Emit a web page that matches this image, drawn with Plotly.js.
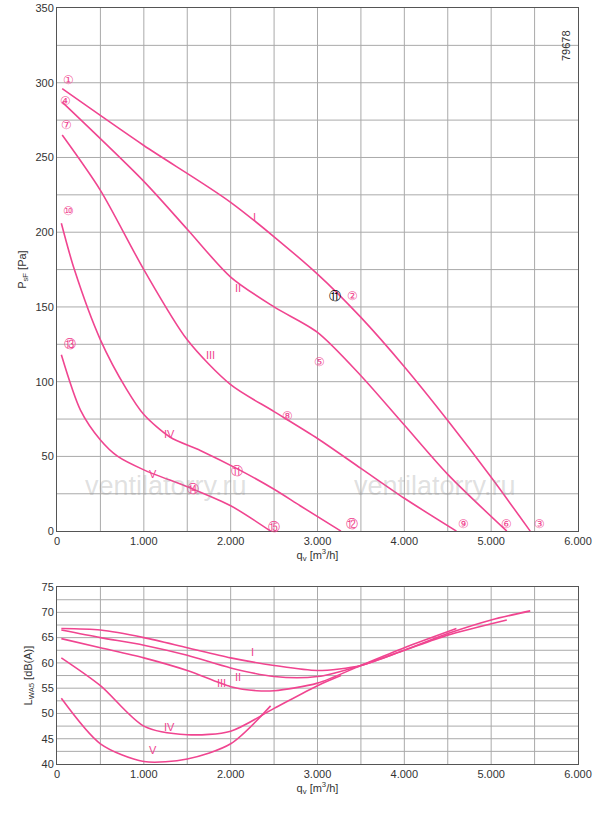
<!DOCTYPE html><html><head><script src="https://cdn.plot.ly/plotly-3.0.1.min.js"></script></head><body style="margin:0"><div id="c" style="width:600px;height:816px"></div><script>
const qI=[60,1000,2000,3000,3500,4000,4500,5000,5450], pI=[296,258,220,172,143,110,74,36,0];
const qII=[60,1000,1500,2000,2500,3000,3500,4000,4500,5180], pII=[287,234,202,170,150,133,104,71,38,0];
const qIII=[60,500,1000,1500,2000,2500,3000,3500,4000,4600], pIII=[265,228,175,128,98,80,62,42,22,0];
const qIV=[50,200,500,800,1000,1300,1650,2100,2500,2800,3270], pIV=[206,175,128,95,78,63,54,41,28,17,0];
const qV=[50,270,500,700,1000,1530,2000,2460], pV=[118,81,61,50,41,29,17,0];
const lqI=[50,500,1000,1500,2000,2500,3000,3500,4000,4500,5000,5450], lI=[66.8,66.5,65,63,61,59.5,58.5,59.5,62.5,65.8,68.5,70.3];
const lqII=[50,500,1000,1500,2000,2500,3000,3500,4000,4500,5180], lII=[66.5,65,63.5,61.5,59,57.3,57.3,59.5,62.5,65.5,68.5];
const lqIII=[50,500,1000,1500,2000,2300,2500,3000,3500,4000,4600], lIII=[64.8,63,61,58.5,55.3,54.5,54.5,56,59.5,63,66.8];
const lqIV=[50,500,1000,1500,2000,2500,3000,3270], lIV=[61,55.5,47.5,45.8,46.5,51,55.5,57.5];
const lqV=[50,500,1000,1500,2000,2460], lV=[53,44,40.5,41,44,51.5];
const xt=[0,1000,2000,3000,4000,5000,6000], xtl=['0','1.000','2.000','3.000','4.000','5.000','6.000'];
const pts=[['①',127,302],['④',100,288],['⑦',110,272],['⑩',127,214],['⑬',150,125],['②',3400,157],['⑤',3020,113],['⑧',2650,77],['⑪',2070,40],['⑭',1570,28],['⑮',2500,3],['⑫',3400,5],['⑨',4680,5],['⑥',5180,5],['③',5560,5]];
const rom=[['I',2270,210],['II',2080,163],['III',1770,118],['IV',1300,65],['V',1100,38]];
const rom2=[['I',2250,62.2],['II',2080,57.2],['III',1900,56],['IV',1300,47.3],['V',1100,42.8]];
const pink='#f04590';
function ln(x,y,xa,ya){return {x:x,y:y,xaxis:xa,yaxis:ya,mode:'lines',line:{color:pink,width:1.6,shape:'spline',smoothing:0.8},hoverinfo:'none'};}
const data=[ln(qI,pI,'x','y'),ln(qII,pII,'x','y'),ln(qIII,pIII,'x','y'),ln(qIV,pIV,'x','y'),ln(qV,pV,'x','y'),
ln(lqI,lI,'x2','y2'),ln(lqII,lII,'x2','y2'),ln(lqIII,lIII,'x2','y2'),ln(lqIV,lIV,'x2','y2'),ln(lqV,lV,'x2','y2')];
const ann=[];
pts.forEach(p=>ann.push({x:p[1],y:p[2],xref:'x',yref:'y',text:p[0],showarrow:false,font:{size:12,color:pink}}));
ann.push({x:3200,y:157,xref:'x',yref:'y',text:'⑪',showarrow:false,font:{size:12,color:'#000'}});
rom.forEach(p=>ann.push({x:p[1],y:p[2],xref:'x',yref:'y',text:p[0],showarrow:false,font:{size:11,color:pink}}));
rom2.forEach(p=>ann.push({x:p[1],y:p[2],xref:'x2',yref:'y2',text:p[0],showarrow:false,font:{size:11,color:pink}}));
ann.push({x:1250,y:30,xref:'x',yref:'y',text:'ventilatorry.ru',showarrow:false,font:{size:27,color:'rgba(150,150,150,0.3)'}});
ann.push({x:4350,y:30,xref:'x',yref:'y',text:'ventilatorry.ru',showarrow:false,font:{size:27,color:'rgba(150,150,150,0.3)'}});
ann.push({x:5870,y:325,xref:'x',yref:'y',text:'79678',textangle:-90,showarrow:false,font:{size:11,color:'#333'}});
const ax={range:[0,6000],tickvals:xt,ticktext:xtl,showgrid:false,zeroline:false,showline:true,mirror:true,linecolor:'#555',ticks:'',tickfont:{size:11}};
const grid=[];
for(let v=500;v<6000;v+=500){grid.push({type:'line',xref:'x',yref:'paper',x0:v,x1:v,y0:0.308,y1:1,line:{color:'#aaa',width:1},layer:'below'});grid.push({type:'line',xref:'x2',yref:'paper',x0:v,x1:v,y0:0,y1:0.234,line:{color:'#aaa',width:1},layer:'below'});}
for(let v=25;v<350;v+=25)grid.push({type:'line',xref:'paper',yref:'y',x0:0,x1:1,y0:v,y1:v,line:{color:'#aaa',width:1},layer:'below'});
for(let v=42.5;v<75;v+=2.5)grid.push({type:'line',xref:'paper',yref:'y2',x0:0,x1:1,y0:v,y1:v,line:{color:'#aaa',width:1},layer:'below'});
const layout={width:600,height:816,margin:{l:57,r:22,t:8,b:52},showlegend:false,font:{family:'Liberation Sans, Arial',size:11,color:'#333'},plot_bgcolor:'#fff',
xaxis:Object.assign({},ax,{anchor:'y',title:{text:'q<sub>v</sub> [m<sup>3</sup>/h]',standoff:4,font:{size:11}}}),
yaxis:{domain:[0.308,1],range:[0,350],dtick:50,showgrid:false,zeroline:false,showline:true,mirror:true,linecolor:'#555',tickfont:{size:11},title:{text:'P<sub>sF</sub> [Pa]',font:{size:11},standoff:6}},
xaxis2:Object.assign({},ax,{anchor:'y2',title:{text:'q<sub>v</sub> [m<sup>3</sup>/h]',standoff:4,font:{size:11}}}),
yaxis2:{domain:[0,0.234],range:[40,75],dtick:5,anchor:'x2',showgrid:false,zeroline:false,showline:true,mirror:true,linecolor:'#555',tickfont:{size:11},title:{text:'L<sub>WA5</sub> [dB(A)]',font:{size:11},standoff:6}},
annotations:ann,shapes:grid};
Plotly.newPlot('c',data,layout,{staticPlot:true});
</script></body></html>
